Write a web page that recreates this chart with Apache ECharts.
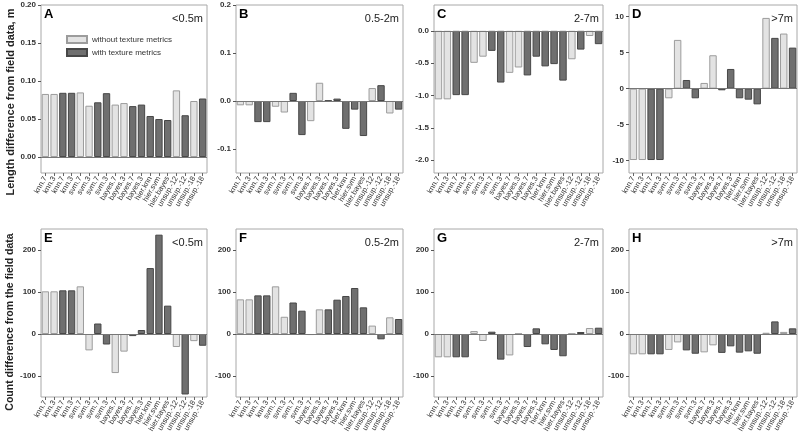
<!DOCTYPE html>
<html><head><meta charset="utf-8">
<script src="https://cdn.jsdelivr.net/npm/echarts@6/dist/echarts.min.js"></script>
<style>html,body{margin:0;padding:0;background:#fff}#c{width:800px;height:437px}</style>
</head><body><div id="c"></div>
<script>
const categories = ['knn.7','knn.3','knn.7','knn.3','svm.7','svm.3','svm.7','svm.3','bayes.7','bayes.3','bayes.7','bayes.3','hier.knn','hier.svm','hier.bayes','unsup.-12','unsup.-12','unsup.-18','unsup.-18'];
const withTexture = [0,0,1,1,0,0,1,1,0,0,1,1,1,1,1,0,1,0,1];
const seriesNames = ['without texture metrics','with texture metrics'];

const lengthLt05 = [0.083,0.083,0.0845,0.0845,0.085,0.0675,0.072,0.084,0.069,0.071,0.067,0.069,0.054,0.050,0.0487,0.0877,0.055,0.0737,0.077];
const length05to2 = [-0.009,-0.009,-0.044,-0.044,-0.012,-0.024,0.017,-0.071,-0.042,0.038,0.001,0.005,-0.058,-0.018,-0.073,0.027,0.033,-0.026,-0.018];
const length2to7 = [-1.06,-1.06,-0.995,-0.995,-0.495,-0.40,-0.31,-0.80,-0.65,-0.567,-0.69,-0.40,-0.55,-0.515,-0.77,-0.44,-0.29,-0.08,-0.206];
const lengthGt7 = [-9.9,-9.9,-9.9,-9.9,-1.34,6.76,1.2,-1.34,0.79,4.63,-0.23,2.73,-1.34,-1.53,-2.18,9.81,7.04,7.64,5.69];
const countLt05 = [101.6,101.6,104,104,113.5,-39,25,-25,-93,-42,-5,9.5,157,236.5,67.5,-31,-144,-17,-28];
const count05to2 = [82.5,82.5,92,92,113.5,41,75,55.5,-2.5,58.7,58.7,81.7,90.5,109.5,63.5,20,-12.7,39.7,35.7];
const count2to7 = [-55.5,-55.5,-55.5,-55.5,7,-16.7,5.5,-61,-51,1,-31,13.5,-24.6,-38,-53,1,4.7,14.3,15];
const countGt7 = [-48.4,-48.4,-48.4,-48.4,-38,-20,-39,-47,-43.7,-27,-45,-29.4,-44.4,-41.3,-47,3,30,5,13.5];

const panelLetters = ['A','B','C','D','E','F','G','H'];
const sizeClasses = ['<0.5m','0.5-2m','2-7m','>7m','<0.5m','0.5-2m','2-7m','>7m'];
const ticksA = [0,0.05,0.10,0.15,0.20];
const ticksB = [-0.1,0.0,0.1,0.2];
const ticksC = [-2.0,-1.5,-1.0,-0.5,0.0];
const ticksD = [-10,-5,0,5,10];
const ticksCount = [-100,0,100,200];
const yTitles = ['Length difference from field data, m','Count difference from the field data'];

const panelData = [lengthLt05,length05to2,length2to7,lengthGt7,countLt05,count05to2,count2to7,countGt7];
const panelTicks = [ticksA,ticksB,ticksC,ticksD,ticksCount,ticksCount,ticksCount,ticksCount];
const panelRange = [[-0.021,0.20],[-0.15,0.20],[-2.2,0.4],[-11.7,11.6],[-150,250],[-150,250],[-150,250],[-150,250]];
const panelDecimals = [2,1,1,0,0,0,0,0];

const colLefts = [41,236,434,629];
const colWidths = [166,167,169,168];
const rowTops = [5,229];
const plotH = 168;
const FONT = 'Liberation Sans, Arial, sans-serif';
const fills = ['#e3e3e3','#6f6f6f'];
const borders = ['#9c9c9c','#474747'];

const grids=[],xAxes=[],yAxes=[],series=[],graphics=[];
for(let p=0;p<8;p++){
  const r=Math.floor(p/4),c=p%4;
  const left=colLefts[c],top=rowTops[r],w=colWidths[c];
  grids.push({left:left,top:top,width:w,height:plotH,show:true,borderColor:'#a8a8a8',borderWidth:1,backgroundColor:'#fff'});
  xAxes.push({type:'category',gridIndex:p,data:categories,
    axisLine:{show:false,onZero:false},
    axisTick:{show:true,alignWithLabel:true,length:3,lineStyle:{color:'#666'}},
    axisLabel:{interval:0,rotate:60,fontSize:7.5,color:'#333',margin:4,fontFamily:FONT},
    splitLine:{show:false}});
  const dec=panelDecimals[p];
  yAxes.push({type:'value',gridIndex:p,min:panelRange[p][0],max:panelRange[p][1],
    axisLine:{show:false},
    axisTick:{show:true,length:3,customValues:panelTicks[p],lineStyle:{color:'#555'}},
    axisLabel:{customValues:panelTicks[p],fontSize:8,fontWeight:'bold',color:'#333',margin:5,fontFamily:FONT,
      formatter:v=>Number(v).toFixed(dec)},
    splitLine:{show:false}});
  for(let s=0;s<2;s++){
    const ser={type:'bar',name:seriesNames[s],xAxisIndex:p,yAxisIndex:p,
      barGap:'-100%',barCategoryGap:'16%',
      itemStyle:{color:fills[s],borderColor:borders[s],borderWidth:1},
      data:panelData[p].map((v,i)=>withTexture[i]===s?v:null),
      emphasis:{disabled:true},silent:true,animation:false};
    if(s===0){
      ser.markLine={silent:true,symbol:'none',label:{show:false},
        lineStyle:{color:'#777',width:1,type:'solid'},data:[{yAxis:0}],animation:false};
    }
    series.push(ser);
  }
  graphics.push({type:'text',left:left+3,top:top+3,z:100,
    style:{text:panelLetters[p],font:'bold 13px '+FONT,fill:'#000'}});
  graphics.push({type:'text',right:800-(left+w)+4,top:top+8,z:100,
    style:{text:sizeClasses[p],font:'11px '+FONT,fill:'#222'}});
}
graphics.push({type:'text',x:11,y:102,rotation:Math.PI/2,z:100,
  style:{text:yTitles[0],font:'bold 11px '+FONT,fill:'#222',align:'center',verticalAlign:'middle'}});
graphics.push({type:'text',x:10,y:322,rotation:Math.PI/2,z:100,
  style:{text:yTitles[1],font:'bold 10.5px '+FONT,fill:'#222',align:'center',verticalAlign:'middle'}});

const chart=echarts.init(document.getElementById('c'),null,{renderer:'canvas'});
chart.setOption({
  animation:false,
  grid:grids,xAxis:xAxes,yAxis:yAxes,series:series,graphic:graphics,
  legend:{data:seriesNames,orient:'vertical',left:66,top:35,padding:0,itemWidth:20,itemHeight:7,itemGap:4,
    icon:'rect',selectedMode:false,textStyle:{fontSize:8,color:'#333',fontFamily:FONT}}
});
</script></body></html>
